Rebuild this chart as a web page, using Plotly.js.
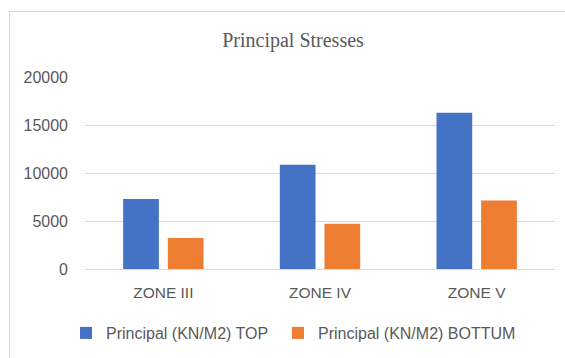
<!DOCTYPE html>
<html>
<head>
<meta charset="utf-8">
<script src="https://cdn.plot.ly/plotly-3.0.1.min.js"></script>
<style>
  html, body { margin: 0; padding: 0; background: #ffffff; }
  #chart { width: 565px; height: 358px; position: absolute; left: 0; top: 0; }
  #frame { position: absolute; left: 9px; top: 11px; width: 600px; height: 400px;
           border: 1px solid #d9d9d9; pointer-events: none; box-sizing: border-box; }
</style>
</head>
<body>
<div id="chart"></div>
<div id="frame"></div>
<script>
const categories = ["ZONE III", "ZONE IV", "ZONE V"];
const topValues = [7280, 10850, 16280];
const bottomValues = [3220, 4710, 7130];
const seriesNames = ["Principal (KN/M2) TOP", "Principal (KN/M2) BOTTUM"];
const yTickValues = [0, 5000, 10000, 15000, 20000];
const yTickLabels = ["0", "5000", "10000", "15000", "20000"];

const labelFont = { family: "Liberation Sans, Arial, sans-serif", size: 16, color: "#595959" };
const xFont = { family: "Liberation Sans, Arial, sans-serif", size: 15.5, color: "#595959" };

const data = [
  { type: "bar", name: seriesNames[0], x: categories, y: topValues,
    marker: { color: "#4472c4" }, hoverinfo: "none", legend: "legend" },
  { type: "bar", name: seriesNames[1], x: categories, y: bottomValues,
    marker: { color: "#ed7d31" }, hoverinfo: "none", legend: "legend2" }
];

const legendBase = {
  orientation: "h",
  xanchor: "left",
  yref: "container", y: 1 - 333 / 358, yanchor: "middle",
  font: labelFont,
  bgcolor: "rgba(0,0,0,0)",
  itemclick: false, itemdoubleclick: false
};

const layout = {
  width: 565, height: 358,
  margin: { l: 85, r: 10, t: 77, b: 89, pad: 0 },
  paper_bgcolor: "rgba(0,0,0,0)",
  plot_bgcolor: "rgba(0,0,0,0)",
  barmode: "group",
  bargap: 0.43,
  bargroupgap: 0.2,
  showlegend: true,
  title: {
    text: "Principal Stresses",
    font: { family: "Liberation Serif, Times New Roman, serif", size: 20, color: "#595959" },
    xref: "container", x: 293 / 565, xanchor: "center",
    yref: "container", y: 1 - 40 / 358, yanchor: "middle"
  },
  xaxis: {
    type: "category",
    tickfont: xFont,
    showgrid: false, zeroline: false, showline: false,
    ticks: "", ticklabelstandoff: 12,
    fixedrange: true
  },
  yaxis: {
    range: [0, 20000],
    tickvals: yTickValues, ticktext: yTickLabels,
    tickfont: labelFont,
    showgrid: true, gridcolor: "#d9d9d9", gridwidth: 1,
    zeroline: true, zerolinecolor: "#d9d9d9", zerolinewidth: 1,
    showline: false, ticks: "", ticklabelstandoff: 16,
    fixedrange: true
  },
  legend: Object.assign({}, legendBase, { xref: "container", x: 66 / 565 }),
  legend2: Object.assign({}, legendBase, { xref: "container", x: 278 / 565 })
};

Plotly.newPlot("chart", data, layout, { displayModeBar: false, staticPlot: true });
</script>
</body>
</html>
